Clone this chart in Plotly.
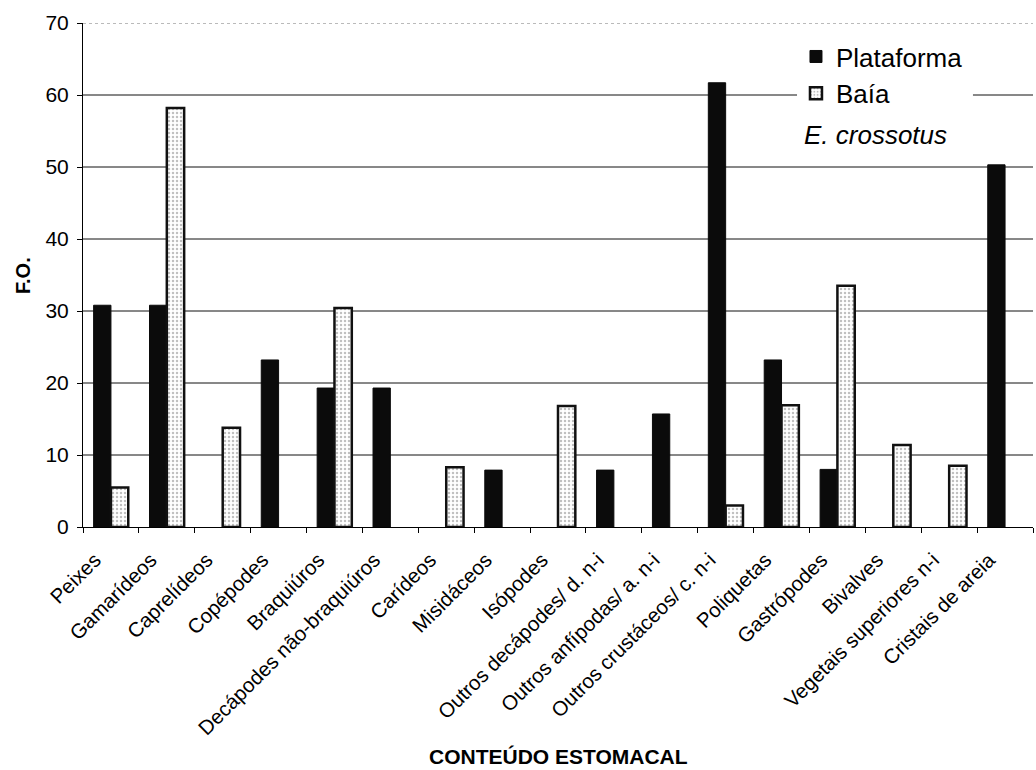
import plotly.graph_objects as go

# Stomach-content categories and frequency of occurrence (F.O.) per site
categorias = [
    "Peixes", "Gamarídeos", "Caprelídeos", "Copépodes", "Braquiúros",
    "Decápodes não-braquiúros", "Carídeos", "Misidáceos", "Isópodes",
    "Outros decápodes/ d. n-i", "Outros anfípodas/ a. n-i",
    "Outros crustáceos/ c. n-i", "Poliquetas", "Gastrópodes", "Bivalves",
    "Vegetais superiores n-i", "Cristais de areia",
]
plataforma = [30.8, 30.8, None, 23.2, 19.3, 19.3, None, 7.9, None, 7.9,
              15.7, 61.7, 23.2, 8.0, None, None, 50.3]
baia = [5.5, 58.2, 13.8, None, 30.4, None, 8.3, None, 16.8, None,
        None, 3.0, 16.9, 33.5, 11.4, 8.5, None]
y_ticks = [0, 10, 20, 30, 40, 50, 60, 70]

FONT = "Liberation Sans, Arial, sans-serif"

fig = go.Figure()
fig.add_bar(
    x=categorias, y=plataforma, name="Plataforma",
    marker=dict(color="#0b0b0b", line=dict(color="#0b0b0b", width=1)),
)
fig.add_bar(
    x=categorias, y=baia, name="Baía",
    marker=dict(
        color="white",
        line=dict(color="#111111", width=2.5),
        pattern=dict(shape=".", fgcolor="#808080", bgcolor="white",
                     size=4, solidity=0.3, fillmode="overlay"),
    ),
)

# horizontal gridlines (top one dotted) drawn beneath the bars
shapes = []
for v in y_ticks[1:]:
    top = v == y_ticks[-1]
    shapes.append(dict(
        type="line", layer="below", xref="paper", x0=0, x1=1,
        yref="y", y0=v, y1=v,
        line=dict(color="#777777" if top else "#111111", width=1,
                  dash="dot" if top else "solid"),
    ))
# white backing behind the legend block
shapes.append(dict(
    type="rect", layer="below", xref="paper", yref="paper",
    x0=0.7516, x1=0.9368, y0=0.748, y1=0.986,
    fillcolor="white", line=dict(width=0),
))

fig.update_layout(
    width=1036, height=770,
    margin=dict(l=83, r=3, t=23, b=243),
    paper_bgcolor="white", plot_bgcolor="white",
    font=dict(family=FONT, color="black", size=20),
    barmode="group", bargap=0.38, bargroupgap=0,
    showlegend=True,
    legend=dict(
        x=0.7505, y=0.980, xanchor="left", yanchor="top",
        bgcolor="rgba(0,0,0,0)", font=dict(size=26, family=FONT),
        itemwidth=30,
    ),
    shapes=shapes,
    annotations=[
        dict(text="<i>E. crossotus</i>", xref="paper", yref="paper",
             x=0.7565, y=0.778, xanchor="left", yanchor="middle",
             showarrow=False, font=dict(size=26, family=FONT)),
        dict(text="<b>CONTEÚDO ESTOMACAL</b>", xref="paper", yref="paper",
             x=0.5, y=-0.4563, xanchor="center", yanchor="middle",
             showarrow=False, font=dict(size=21, family=FONT)),
        dict(text="<b>F.O.</b>", xref="paper", yref="paper",
             x=-0.0632, y=0.5, xanchor="center", yanchor="middle",
             textangle=-90, showarrow=False,
             font=dict(size=20, family=FONT)),
    ],
)

fig.update_xaxes(
    showline=True, linecolor="black", linewidth=1,
    ticks="outside", tickson="boundaries", ticklen=5, tickcolor="black",
    tickangle=-45, tickfont=dict(size=20.5, family=FONT),
    ticklabelstandoff=12, ticklabelshift=-16, showgrid=False,
)
fig.update_yaxes(
    range=[0, 70], tickvals=y_ticks, showgrid=False, zeroline=False,
    showline=True, linecolor="black", linewidth=1,
    ticks="outside", ticklen=5, tickcolor="black",
    tickfont=dict(size=21, family=FONT), ticklabelstandoff=4,
)

fig.write_html("out.html")
